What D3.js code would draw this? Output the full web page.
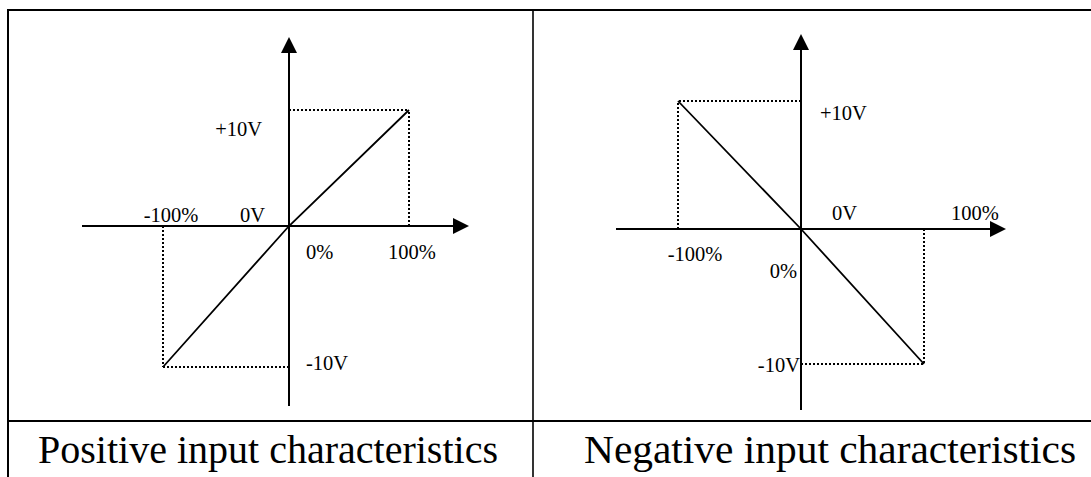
<!DOCTYPE html>
<html>
<head>
<meta charset="utf-8">
<script src="https://cdn.jsdelivr.net/npm/d3@7"></script>
<style>
  html, body { margin: 0; padding: 0; background: #fff; }
  svg { display: block; }
  text { font-family: "Liberation Serif", "Times New Roman", serif; fill: #000; }
</style>
</head>
<body>
<script>
// Analog input characteristics: input percentage vs. voltage
const inputPercent = [-100, 0, 100];
const positiveVolts = [-10, 0, 10];
const negativeVolts = [10, 0, -10];
const captions = ["Positive input characteristics", "Negative input characteristics"];

const W = 1091, H = 477;
const svg = d3.select("body").append("svg").attr("width", W).attr("height", H);
svg.append("rect").attr("width", W).attr("height", H).attr("fill", "#fff");

// table frame
const frame = svg.append("g").attr("stroke", "#000").attr("fill", "none");
frame.append("line").attr("x1", 7).attr("x2", W).attr("y1", 10).attr("y2", 10).attr("stroke-width", 2.2);
frame.append("line").attr("x1", 7).attr("x2", W).attr("y1", 421).attr("y2", 421).attr("stroke-width", 2.2);
frame.append("line").attr("x1", 8).attr("x2", 8).attr("y1", 9).attr("y2", H).attr("stroke-width", 2);
frame.append("line").attr("x1", 533).attr("x2", 533).attr("y1", 9).attr("y2", H).attr("stroke-width", 1.6);

// panel geometry: scales map percent / volts to pixels
const panels = [
  {
    volts: positiveVolts,
    x: d3.scaleLinear().domain([-100, 0, 100]).range([163, 289, 409]),
    y: d3.scaleLinear().domain([-10, 0, 10]).range([367, 226, 110]),
    xAxis: [82, 469], yAxis: [406, 37],
    labels: [
      {t: "+10V", px: 0, v: 10, dx: -27, dy: 26, a: "end"},
      {t: "-100%", px: -100, v: 0, dx: 8, dy: -4.5, a: "middle"},
      {t: "0V", px: 0, v: 0, dx: -24, dy: -4.5, a: "end"},
      {t: "0%", px: 0, v: 0, dx: 17, dy: 33, a: "start"},
      {t: "100%", px: 100, v: 0, dx: 3, dy: 33, a: "middle"},
      {t: "-10V", px: 0, v: -10, dx: 17, dy: 3, a: "start"}
    ],
    caption: [38, 460]
  },
  {
    volts: negativeVolts,
    x: d3.scaleLinear().domain([-100, 0, 100]).range([678, 801, 924]),
    y: d3.scaleLinear().domain([-10, 0, 10]).range([364, 229, 101]),
    xAxis: [616, 1006], yAxis: [410, 34],
    labels: [
      {t: "+10V", px: 0, v: 10, dx: 19, dy: 19, a: "start"},
      {t: "0V", px: 0, v: 0, dx: 31, dy: -9, a: "start"},
      {t: "100%", px: 100, v: 0, dx: 51, dy: -9, a: "middle"},
      {t: "-100%", px: -100, v: 0, dx: 17, dy: 32, a: "middle"},
      {t: "0%", px: 0, v: 0, dx: -4, dy: 49, a: "end"},
      {t: "-10V", px: 0, v: -10, dx: -1, dy: 8, a: "end"}
    ],
    caption: [584, 492]
  }
];

panels.forEach((p, i) => {
  const g = svg.append("g");
  const x0 = p.x(0), y0 = p.y(0);

  // guide lines from the end points to the axes
  const guides = g.append("g").attr("stroke", "#000").attr("stroke-width", 1.5)
    .attr("stroke-dasharray", "2,2").attr("shape-rendering", "crispEdges").attr("fill", "none");
  [0, 2].forEach(k => {
    const px = p.x(inputPercent[k]), py = p.y(p.volts[k]);
    guides.append("line").attr("x1", px).attr("x2", px).attr("y1", y0).attr("y2", py);
    guides.append("line").attr("x1", x0).attr("x2", px).attr("y1", py).attr("y2", py);
  });

  // axes with arrow heads
  const ax = g.append("g").attr("stroke", "#000").attr("stroke-width", 2);
  ax.append("line").attr("x1", p.xAxis[0]).attr("x2", p.xAxis[1] - 12).attr("y1", y0).attr("y2", y0);
  ax.append("line").attr("x1", x0).attr("x2", x0).attr("y1", p.yAxis[0]).attr("y2", p.yAxis[1] + 12);
  const tipX = p.xAxis[1], tipY = p.yAxis[1];
  g.append("path").attr("fill", "#000")
    .attr("d", `M${tipX},${y0} L${tipX - 16},${y0 - 8} L${tipX - 16},${y0 + 8} Z`);
  g.append("path").attr("fill", "#000")
    .attr("d", `M${x0},${tipY} L${x0 - 8},${tipY + 16} L${x0 + 8},${tipY + 16} Z`);

  // characteristic line
  const line = d3.line().x(d => p.x(d[0])).y(d => p.y(d[1]));
  g.append("path").datum(inputPercent.map((v, k) => [v, p.volts[k]]))
    .attr("d", line).attr("fill", "none").attr("stroke", "#000").attr("stroke-width", 1.8);

  // labels
  g.selectAll("text.lbl").data(p.labels).join("text").attr("class", "lbl")
    .attr("x", d => p.x(d.px) + d.dx).attr("y", d => p.y(d.v) + d.dy)
    .attr("text-anchor", d => d.a).attr("font-size", 20.5).text(d => d.t);

  // caption
  svg.append("text").attr("x", p.caption[0]).attr("y", 463)
    .attr("font-size", 40)
    .attr("textLength", p.caption[1]).attr("lengthAdjust", "spacingAndGlyphs")
    .text(captions[i]);
});
</script>
</body>
</html>
